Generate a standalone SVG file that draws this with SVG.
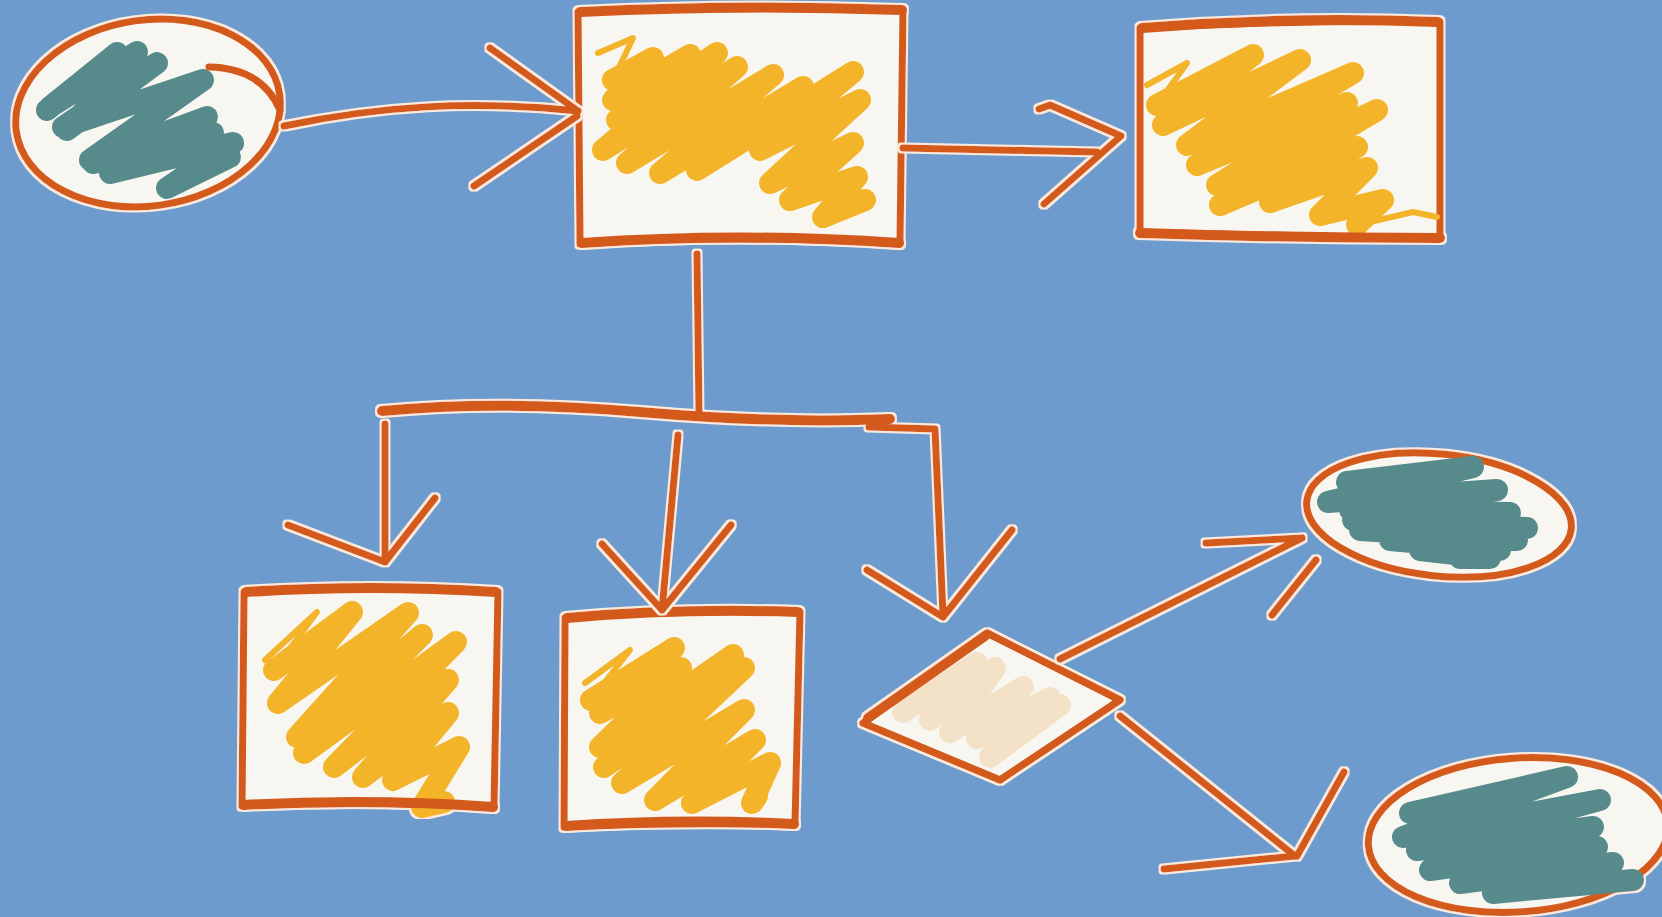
<svg xmlns="http://www.w3.org/2000/svg" width="1662" height="917" viewBox="0 0 1662 917">
<defs>
<filter id="halo" x="-5%" y="-5%" width="110%" height="110%">
<feMorphology in="SourceAlpha" operator="dilate" radius="1.6" result="d"/>
<feFlood flood-color="#fbeadb"/>
<feComposite in2="d" operator="in"/>
<feMerge><feMergeNode/><feMergeNode in="SourceGraphic"/></feMerge>
</filter>
<clipPath id="dclip"><polygon points="987,633 1120,700 1000,780 863,723"/></clipPath>
</defs>
<style>
.ink{fill:none;stroke:#d45a1f;stroke-width:7;stroke-linecap:round;stroke-linejoin:round}
.thick{stroke-width:10}
.box{fill:#f8f6f1;stroke:#d45a1f;stroke-width:7;stroke-linejoin:round}
.yel{fill:none;stroke:#f3b42a;stroke-width:22;stroke-linecap:round;stroke-linejoin:round}
.thin{stroke-width:6}
.teal{fill:none;stroke:#578a8b;stroke-width:22;stroke-linecap:round;stroke-linejoin:round}
.pale{fill:none;stroke:#f4e2c8;stroke-width:22;stroke-linecap:round;stroke-linejoin:round}
</style>
<rect width="1662" height="917" fill="#6e9bcd"/>

<g id="start" filter="url(#halo)">
<ellipse cx="148" cy="113" rx="133" ry="93" transform="rotate(-8 148 113)" class="box"/>
<path class="teal" d="M47,110 L117,53 L50,107 L137,52 L67,130 L157,63 L63,127 L203,80 L90,160 L207,117 L93,163 L213,133 L110,173 L233,143 L167,188 L230,157"/>
<path class="ink" d="M209,67 Q262,68 280,110"/>
</g>

<g id="procA" filter="url(#halo)">
<path class="box" d="M578,12 Q740,6 903,10 L900,244 Q740,234 580,244 Z"/>
<path class="yel thin" d="M598,53 L633,38 L613,80"/>
<path class="yel" d="M613,80 L653,58 L613,100 L690,55 L617,120 L717,53 L603,150 L737,67 L627,163 L773,75 L660,173 L803,87 L697,170 L853,72 L760,150 L860,100 L770,183 L853,143 L790,200 L857,177 L823,217 L865,200"/>
<path class="ink thick" d="M580,12 Q740,4 902,10 M582,243 Q740,232 899,243"/>
</g>

<g id="procB" filter="url(#halo)">
<path class="box" d="M1140,28 Q1290,20 1440,22 L1440,238 Q1290,236 1140,232 Z"/>
<path class="yel thin" d="M1147,85 L1187,63 L1157,105"/>
<path class="yel" d="M1157,105 L1253,55 L1163,125 L1300,60 L1187,145 L1353,73 L1197,165 L1347,103 L1217,185 L1377,110 L1220,205 L1357,147 L1270,202 L1367,168 L1320,215 L1383,200 L1357,225"/>
<path class="yel thin" d="M1357,225 L1413,212 L1437,217"/>
<path class="ink thick" d="M1142,28 Q1290,16 1438,22 M1140,233 Q1290,238 1440,238"/>
</g>

<g id="procC" filter="url(#halo)">
<path class="box" d="M244,592 Q370,586 498,592 L494,808 Q370,800 242,806 Z"/>
<path class="yel thin" d="M265,660 L317,612 L274,670"/>
<path class="yel" d="M274,670 L352,612 L278,703 L408,613 L297,737 L422,635 L304,753 L456,642 L334,767 L448,680 L363,777 L448,713 L393,780 L459,747 L422,807 L444,802"/>
<path class="ink thick" d="M246,592 Q370,584 496,592 M244,805 Q370,798 493,807"/>
</g>

<g id="procD" filter="url(#halo)">
<path class="box" d="M565,618 Q680,610 800,612 L795,825 Q680,822 564,827 Z"/>
<path class="yel thin" d="M585,683 L630,650 L591,700"/>
<path class="yel" d="M591,700 L674,648 L600,713 L681,668 L600,747 L733,655 L604,767 L744,668 L622,783 L744,710 L655,800 L755,740 L692,803 L770,763 L752,803 L757,796"/>
<path class="ink thick" d="M567,618 Q680,608 798,612 M566,826 Q680,818 794,824"/>
</g>

<g id="decision" filter="url(#halo)">
<polygon class="box" points="987,633 1120,700 1000,780 863,723"/>
<path class="pale" clip-path="url(#dclip)" d="M903,712 L977,663 L930,720 L995,668 L950,732 L1023,687 L977,738 L1050,698 L990,757 L1060,705"/>
<path class="ink" d="M987,633 L1120,700 L1000,780 L863,723 Z"/>
<path class="ink thick" d="M868,718 L985,636"/>
</g>

<g id="endE" filter="url(#halo)">
<ellipse cx="1439" cy="515" rx="133" ry="61" transform="rotate(6 1439 515)" class="box"/>
<path class="teal" d="M1347,482 L1473,467 L1328,502 L1497,490 L1350,510 L1510,513 L1353,520 L1527,528 L1360,530 L1517,540 L1390,540 L1500,550 L1420,550 L1490,558 L1460,558"/>
</g>

<g id="endF" filter="url(#halo)">
<ellipse cx="1518" cy="835" rx="150" ry="77" transform="rotate(-4 1518 835)" class="box"/>
<path class="teal" d="M1410,813 L1567,777 L1403,837 L1600,800 L1417,850 L1593,827 L1430,870 L1597,847 L1460,883 L1613,863 L1493,893 L1633,880"/>
</g>

<g id="connectors" filter="url(#halo)">
<path class="ink" d="M284,126 C380,106 470,100 578,111 M490,48 L578,111 M474,186 L577,116"/>
<path class="ink" d="M903,148 L1097,152 M1039,109 L1050,105 L1121,136 L1044,204"/>
<path class="ink" d="M697,254 L699,415"/>
<path class="ink thick" d="M382,411 Q500,400 640,412 T890,419"/>
<path class="ink" d="M385,424 L385,562 M288,525 L385,562 L435,498"/>
<path class="ink" d="M678,435 L662,610 M602,544 L662,610 L731,525"/>
<path class="ink" d="M869,427 L935,429 L943,615 M867,570 L943,617 L1012,530"/>
<path class="ink" d="M1060,659 L1302,538 M1206,543 L1302,538 M1272,615 L1316,560"/>
<path class="ink" d="M1120,716 L1295,856 M1164,869 L1295,856 M1344,772 L1297,856"/>
</g>
</svg>
